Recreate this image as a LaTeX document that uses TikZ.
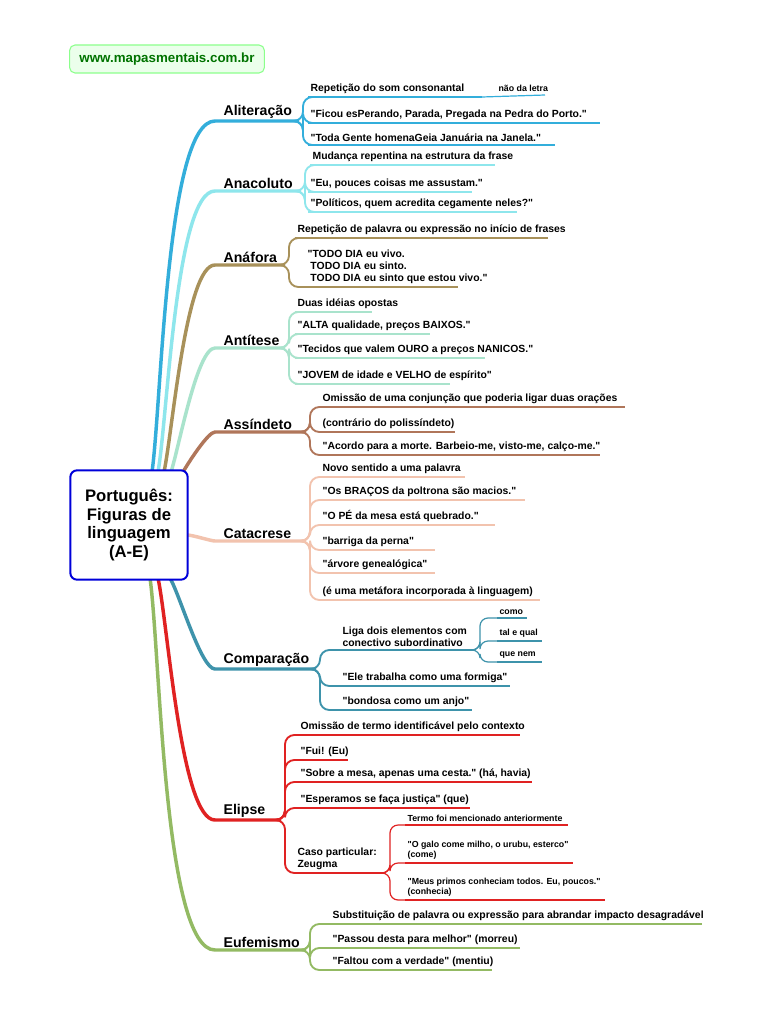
\documentclass[tikz,border=0pt]{standalone}
\usepackage{fontspec}
\setmainfont{Liberation Sans}[Ligatures=TeXOff]
\usetikzlibrary{calc}
\definecolor{ca}{HTML}{33AEDB}
\definecolor{cb}{HTML}{8EE6EC}
\definecolor{cc}{HTML}{A8915A}
\definecolor{cd}{HTML}{A9E3CC}
\definecolor{ce}{HTML}{B0765A}
\definecolor{cf}{HTML}{F2C3AE}
\definecolor{cg}{HTML}{3E93AB}
\definecolor{ch}{HTML}{E02222}
\definecolor{ci}{HTML}{93BA63}
\tikzset{
 leafline/.style={line width=1.4pt,rounded corners=7pt},
 subline/.style={line width=0.9pt,rounded corners=6pt},
 mainline/.style={line width=2.6pt,line cap=round},
 leaftext/.style={inner sep=1pt,font=\fontsize{7.8}{9}\selectfont\bfseries,align=left},
 subtext/.style={inner sep=1pt,font=\fontsize{6.6}{7.8}\selectfont\bfseries,align=left},
 brtext/.style={inner sep=1pt,font=\fontsize{10.6}{12}\selectfont\bfseries},
}
% #1 name, #2 parent, #3 x1, #4 x2, #5 y, #6 color, #7 text
\newcommand\lf[7]{%
 \coordinate (#1) at (#3,#5);
 \coordinate (#1e) at (#4,#5);
 \draw[leafline,#6] (#1) -- (#1e);
 \node[leaftext,anchor=south west] (#1t) at ($(#1)+(1,-2)$) {#7};
 \draw[leafline,#6] (#2) -- ++(5,0) |- (#1);}
\newcommand\sublf[7]{%
 \coordinate (#1) at (#3,#5);
 \coordinate (#1e) at (#4,#5);
 \draw[subline,#6] (#1) -- (#1e);
 \node[subtext,anchor=south west] (#1t) at ($(#1)+(1,-2)$) {#7};
 \draw[subline,#6] (#2) -- ++(5,0) |- (#1);}
% #1 name, #2 start on centre, #3 x2, #4 y, #5 color, #6 text, #7 out angle
\newcommand\br[7]{%
 \coordinate (#1s) at (215,#4);
 \coordinate (#1) at (#3,#4);
 \draw[mainline,#5] (#2) to[out=#7,in=180,out looseness=0.5,in looseness=0.35] (#1s) -- (#1);
 \node[brtext,anchor=south west] (#1t) at (222,#4-1) {#6};}
\begin{document}
\begin{tikzpicture}[x=0.75pt,y=-0.75pt]
\useasboundingbox (0,0) rectangle (768,1024);
\fill[white] (0,0) rectangle (768,1024);
\node[draw=green!45!white,fill=green!8!white,rounded corners=4pt,line width=0.8pt,minimum width=146pt,minimum height=21pt,font=\fontsize{10}{12}\selectfont\bfseries,text=green!45!black] (web) at (167,59) {www.mapasmentais.com.br};
% branches
\coordinate (sA) at (152,472);
\coordinate (sB) at (158,472);
\coordinate (sC) at (164,472);
\coordinate (sD) at (171,472);
\coordinate (sE) at (183,472);
\coordinate (sF) at (187,535);
\coordinate (sG) at (170,578);
\coordinate (sH) at (158,578);
\coordinate (sI) at (150,578);
\br{A}{sA}{298}{121}{ca}{Aliteração}{82}
\br{B}{sB}{300}{191}{cb}{Anacoluto}{80}
\br{C}{sC}{284}{265}{cc}{Anáfora}{78}
\br{D}{sD}{284}{348}{cd}{Antítese}{72}
\br{E}{sE}{305}{432}{ce}{Assíndeto}{60}
\br{F}{sF}{305}{541}{cf}{Catacrese}{0}
\br{G}{sG}{315}{669}{cg}{Comparação}{-60}
\br{H}{sH}{280}{820}{ch}{Elipse}{-78}
\br{I}{sI}{305}{950}{ci}{Eufemismo}{-82}
\node[draw=blue!85!black,line width=1.5pt,rounded corners=5pt,fill=white,minimum width=88pt,minimum height=82pt,align=center,font=\fontsize{12.5}{14}\selectfont\bfseries] (c) at (129,525) {Português:\\Figuras de\\linguagem\\(A-E)};
% Aliteração
\lf{A1}{A}{308}{482}{97}{ca}{Repetição do som consonantal}
\draw[subline,ca] (A1e) -- (545,95);
\node[subtext,anchor=south west] (A1b) at (497,93) {não da letra};
\lf{A2}{A}{308}{600}{123}{ca}{"Ficou esPerando, Parada, Pregada na Pedra do Porto."}
\lf{A3}{A}{308}{555}{145}{ca}{"Toda Gente homenaGeia Januária na Janela."}
% Anacoluto
\lf{B1}{B}{310}{495}{165}{cb}{Mudança repentina na estrutura da frase}
\lf{B2}{B}{308}{472}{192}{cb}{"Eu, pouces coisas me assustam."}
\lf{B3}{B}{308}{517}{212}{cb}{"Políticos, quem acredita cegamente neles?"}
% Anáfora
\lf{C1}{C}{295}{548}{238}{cc}{Repetição de palavra ou expressão no início de frases}
\lf{C2}{C}{305}{458}{287}{cc}{"TODO DIA eu vivo.\\\ TODO DIA eu sinto.\\\ TODO DIA eu sinto que estou vivo."}
% Antítese
\lf{D1}{D}{295}{372}{312}{cd}{Duas idéias opostas}
\lf{D2}{D}{295}{430}{334}{cd}{"ALTA qualidade, preços BAIXOS."}
\lf{D3}{D}{295}{485}{358}{cd}{"Tecidos que valem OURO a preços NANICOS."}
\lf{D4}{D}{295}{450}{384}{cd}{"JOVEM de idade e VELHO de espírito"}
% Assíndeto
\lf{E1}{E}{320}{625}{407}{ce}{Omissão de uma conjunção que poderia ligar duas orações}
\lf{E2}{E}{320}{455}{432}{ce}{(contrário do polissíndeto)}
\lf{E3}{E}{320}{600}{455}{ce}{"Acordo para a morte. Barbeio-me, visto-me, calço-me."}
% Catacrese
\lf{F1}{F}{320}{465}{477}{cf}{Novo sentido a uma palavra}
\lf{F2}{F}{320}{525}{500}{cf}{"Os BRAÇOS da poltrona são macios."}
\lf{F3}{F}{320}{495}{525}{cf}{"O PÉ da mesa está quebrado."}
\lf{F4}{F}{320}{435}{550}{cf}{"barriga da perna"}
\lf{F5}{F}{320}{435}{573}{cf}{"árvore genealógica"}
\lf{F6}{F}{320}{540}{600}{cf}{(é uma metáfora incorporada à linguagem)}
% Comparação
\lf{G1}{G}{340}{475}{650}{cg}{Liga dois elementos com\\conectivo subordinativo}
\sublf{G1a}{G1e}{497}{527}{618}{cg}{como}
\sublf{G1b}{G1e}{497}{542}{641}{cg}{tal e qual}
\sublf{G1c}{G1e}{497}{542}{662}{cg}{que nem}
\lf{G2}{G}{340}{510}{686}{cg}{"Ele trabalha como uma formiga"}
\lf{G3}{G}{340}{472}{710}{cg}{"bondosa como um anjo"}
% Elipse
\lf{H1}{H}{298}{520}{735}{ch}{Omissão de termo identificável pelo contexto}
\lf{H2}{H}{298}{348}{760}{ch}{"Fui! (Eu)}
\lf{H3}{H}{298}{532}{782}{ch}{"Sobre a mesa, apenas uma cesta." (há, havia)}
\lf{H4}{H}{298}{470}{808}{ch}{"Esperamos se faça justiça" (que)}
\lf{H5}{H}{295}{385}{873}{ch}{Caso particular:\\Zeugma}
\sublf{H5a}{H5e}{405}{568}{825}{ch}{Termo foi mencionado anteriormente}
\sublf{H5b}{H5e}{405}{573}{863}{ch}{"O galo come milho, o urubu, esterco"\\(come)}
\sublf{H5c}{H5e}{405}{605}{900}{ch}{"Meus primos conheciam todos. Eu, poucos."\\(conhecia)}
% Eufemismo
\lf{I1}{I}{330}{702}{924}{ci}{Substituição de palavra ou expressão para abrandar impacto desagradável}
\lf{I2}{I}{330}{520}{948}{ci}{"Passou desta para melhor" (morreu)}
\lf{I3}{I}{330}{492}{970}{ci}{"Faltou com a verdade" (mentiu)}
\end{tikzpicture}
\end{document}
